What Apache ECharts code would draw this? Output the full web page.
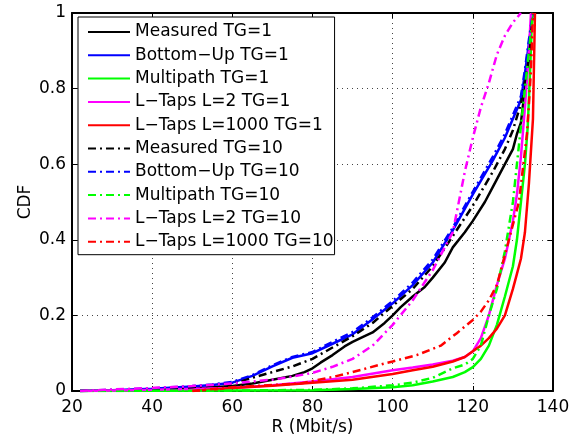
<!DOCTYPE html>
<html>
<head>
<meta charset="utf-8">
<script src="https://cdn.jsdelivr.net/npm/echarts@6/dist/echarts.min.js"></script>
<style>html,body{margin:0;padding:0;background:#fff;}#c{width:579px;height:439px;}</style>
</head>
<body>
<div id="c"></div>
<script>
// Tick values
const xTicks = [20, 40, 60, 80, 100, 120, 140];
const yTicks = [0, 0.2, 0.4, 0.6, 0.8, 1];

// Series names
const seriesNames = [
  'Measured TG=1', 'Bottom\u2212Up TG=1', 'Multipath TG=1', 'L\u2212Taps L=2 TG=1', 'L\u2212Taps L=1000 TG=1',
  'Measured TG=10', 'Bottom\u2212Up TG=10', 'Multipath TG=10', 'L\u2212Taps L=2 TG=10', 'L\u2212Taps L=1000 TG=10'
];

// Data [R (Mbit/s), CDF]
const measuredTG1 = [[22,0],[40,0.003],[50,0.006],[60,0.013],[65,0.02],[70,0.03],[75,0.04],[78,0.05],[80,0.06],[82,0.075],[85,0.095],[88,0.118],[90,0.13],[93,0.145],[95,0.155],[98,0.18],[100,0.2],[102,0.222],[105,0.25],[108,0.275],[110,0.3],[113,0.34],[115,0.38],[118,0.42],[120,0.45],[123,0.5],[125,0.54],[128,0.6],[130,0.64],[131,0.68],[132,0.71],[133,0.8],[134,0.9],[134.8,1]];
const bottomUpTG1 = [[22,0],[30,0.002],[40,0.006],[50,0.012],[55,0.016],[60,0.022],[65,0.04],[70,0.065],[75,0.088],[80,0.1],[85,0.125],[90,0.15],[95,0.19],[100,0.232],[105,0.28],[110,0.34],[115,0.425],[120,0.52],[125,0.61],[128,0.67],[130,0.72],[132,0.77],[133,0.84],[134,0.92],[135,1]];
const multipathTG1 = [[22,0],[60,0.001],[80,0.002],[90,0.005],[100,0.01],[105,0.015],[110,0.025],[115,0.037],[118,0.05],[120,0.063],[122,0.085],[124,0.12],[126,0.175],[128,0.25],[130,0.33],[131,0.4],[132,0.5],[133,0.6],[133.7,0.7],[134.3,0.85],[134.8,1]];
const lTaps2TG1 = [[22,0],[40,0.003],[60,0.008],[70,0.015],[80,0.025],[90,0.037],[100,0.055],[105,0.062],[110,0.07],[115,0.08],[118,0.09],[120,0.105],[122,0.14],[124,0.2],[126,0.28],[128,0.35],[130,0.45],[131,0.52],[132,0.62],[133,0.75],[134,0.9],[134.5,1]];
const lTaps1000TG1 = [[50,0],[55,0.004],[60,0.008],[70,0.014],[80,0.022],[90,0.03],[100,0.045],[105,0.055],[110,0.064],[115,0.078],[118,0.09],[120,0.105],[122,0.12],[124,0.14],[126,0.165],[128,0.2],[130,0.27],[131,0.31],[132,0.35],[133,0.42],[134,0.55],[135,0.72],[135.5,1]];
const measuredTG10 = [[22,0],[40,0.005],[50,0.01],[60,0.02],[65,0.035],[70,0.05],[75,0.065],[80,0.085],[85,0.115],[90,0.145],[95,0.18],[100,0.225],[105,0.27],[110,0.33],[115,0.41],[120,0.49],[125,0.58],[128,0.64],[130,0.69],[132,0.76],[134,0.88],[135,1]];
const bottomUpTG10 = [[22,0],[30,0.003],[40,0.007],[50,0.013],[55,0.017],[60,0.024],[65,0.042],[70,0.068],[75,0.09],[80,0.103],[85,0.13],[90,0.156],[95,0.195],[100,0.238],[105,0.287],[110,0.348],[115,0.432],[120,0.527],[125,0.62],[128,0.68],[130,0.73],[132,0.78],[133,0.85],[134,0.93],[135,1]];
const multipathTG10 = [[22,0],[60,0.001],[80,0.003],[90,0.007],[100,0.015],[105,0.022],[110,0.035],[115,0.06],[118,0.07],[120,0.085],[122,0.12],[124,0.2],[126,0.27],[128,0.37],[130,0.5],[131,0.6],[132,0.7],[133,0.8],[134,0.9],[135,1]];
const lTaps2TG10 = [[22,0],[30,0.004],[40,0.008],[50,0.013],[60,0.02],[70,0.03],[75,0.038],[80,0.048],[85,0.064],[90,0.085],[95,0.12],[100,0.175],[105,0.24],[110,0.32],[115,0.42],[118,0.58],[120,0.67],[122,0.75],[124,0.815],[126,0.89],[128,0.94],[130,0.975],[132,1]];
const lTaps1000TG10 = [[50,0],[60,0.01],[70,0.016],[77,0.02],[85,0.037],[90,0.05],[97,0.07],[100,0.078],[106,0.095],[112,0.12],[116,0.153],[120,0.188],[122,0.21],[124,0.24],[126,0.28],[128,0.36],[130,0.44],[131.5,0.5],[132.5,0.59],[133.5,0.68],[134,0.76],[134.5,0.85],[135,1]];

const seriesData = [measuredTG1, bottomUpTG1, multipathTG1, lTaps2TG1, lTaps1000TG1,
                    measuredTG10, bottomUpTG10, multipathTG10, lTaps2TG10, lTaps1000TG10];
const colors = ['#000000', '#0000ff', '#00ff00', '#ff00ff', '#ff0000',
                '#000000', '#0000ff', '#00ff00', '#ff00ff', '#ff0000'];
const dashDot = [8, 4, 2, 4];

const FONT = '"DejaVu Sans", "Liberation Sans", Arial, sans-serif';

const series = seriesData.map((d, i) => ({
  name: seriesNames[i],
  type: 'line',
  data: d,
  symbol: 'none',
  showSymbol: false,
  animation: false,
  xAxisIndex: 0,
  yAxisIndex: 0,
  lineStyle: { color: colors[i], width: 2.5, type: i < 5 ? 'solid' : dashDot },
  itemStyle: { color: colors[i] }
}));

const chart = echarts.init(document.getElementById('c'), null, { renderer: 'canvas' });
chart.setOption({
  backgroundColor: '#ffffff',
  animation: false,
  grid: { left: 72, right: 26, top: 13, bottom: 48, containLabel: false, outerBoundsMode: 'none' },
  legend: {
    orient: 'vertical',
    left: 78, top: 17,
    data: seriesNames,
    itemWidth: 42, itemHeight: 14, itemGap: 5.3,
    padding: [6, 1, 4, 9],
    backgroundColor: '#ffffff',
    borderColor: '#000000', borderWidth: 1,
    itemStyle: { opacity: 0, borderWidth: 0 },
    textStyle: { fontFamily: FONT, fontSize: 17, color: '#000', lineHeight: 18 }
  },
  xAxis: [{
    type: 'value', min: xTicks[0], max: xTicks[xTicks.length - 1], interval: 20,
    name: 'R (Mbit/s)', nameLocation: 'middle', nameGap: 28, nameMoveOverlap: false,
    nameTextStyle: { fontFamily: FONT, fontSize: 17, color: '#000' },
    axisLine: { show: true, onZero: false, lineStyle: { color: '#000', width: 2 } },
    axisTick: { show: true, inside: true, length: 5, lineStyle: { color: '#000', width: 1 } },
    axisLabel: { fontFamily: FONT, fontSize: 17, color: '#000', margin: 8 },
    splitLine: { show: true, lineStyle: { color: '#444', width: 1, type: [1, 4] } }
  }, {
    type: 'value', position: 'top', min: xTicks[0], max: xTicks[xTicks.length - 1], interval: 20,
    axisLine: { show: true, onZero: false, lineStyle: { color: '#000', width: 2 } },
    axisTick: { show: true, inside: true, length: 5, lineStyle: { color: '#000', width: 1 } },
    axisLabel: { show: false }, splitLine: { show: false }
  }],
  yAxis: [{
    type: 'value', min: yTicks[0], max: yTicks[yTicks.length - 1], interval: 0.2,
    name: 'CDF', nameLocation: 'middle', nameGap: 38, nameRotate: 90, nameMoveOverlap: false,
    nameTextStyle: { fontFamily: FONT, fontSize: 17, color: '#000' },
    axisLine: { show: true, onZero: false, lineStyle: { color: '#000', width: 2 } },
    axisTick: { show: true, inside: true, length: 5, lineStyle: { color: '#000', width: 1 } },
    axisLabel: { fontFamily: FONT, fontSize: 17, color: '#000', margin: 6 },
    splitLine: { show: true, lineStyle: { color: '#444', width: 1, type: [1, 4] } }
  }, {
    type: 'value', position: 'right', min: yTicks[0], max: yTicks[yTicks.length - 1], interval: 0.2,
    axisLine: { show: true, onZero: false, lineStyle: { color: '#000', width: 2 } },
    axisTick: { show: true, inside: true, length: 5, lineStyle: { color: '#000', width: 1 } },
    axisLabel: { show: false }, splitLine: { show: false }
  }],
  series: series
});
</script>
</body>
</html>
